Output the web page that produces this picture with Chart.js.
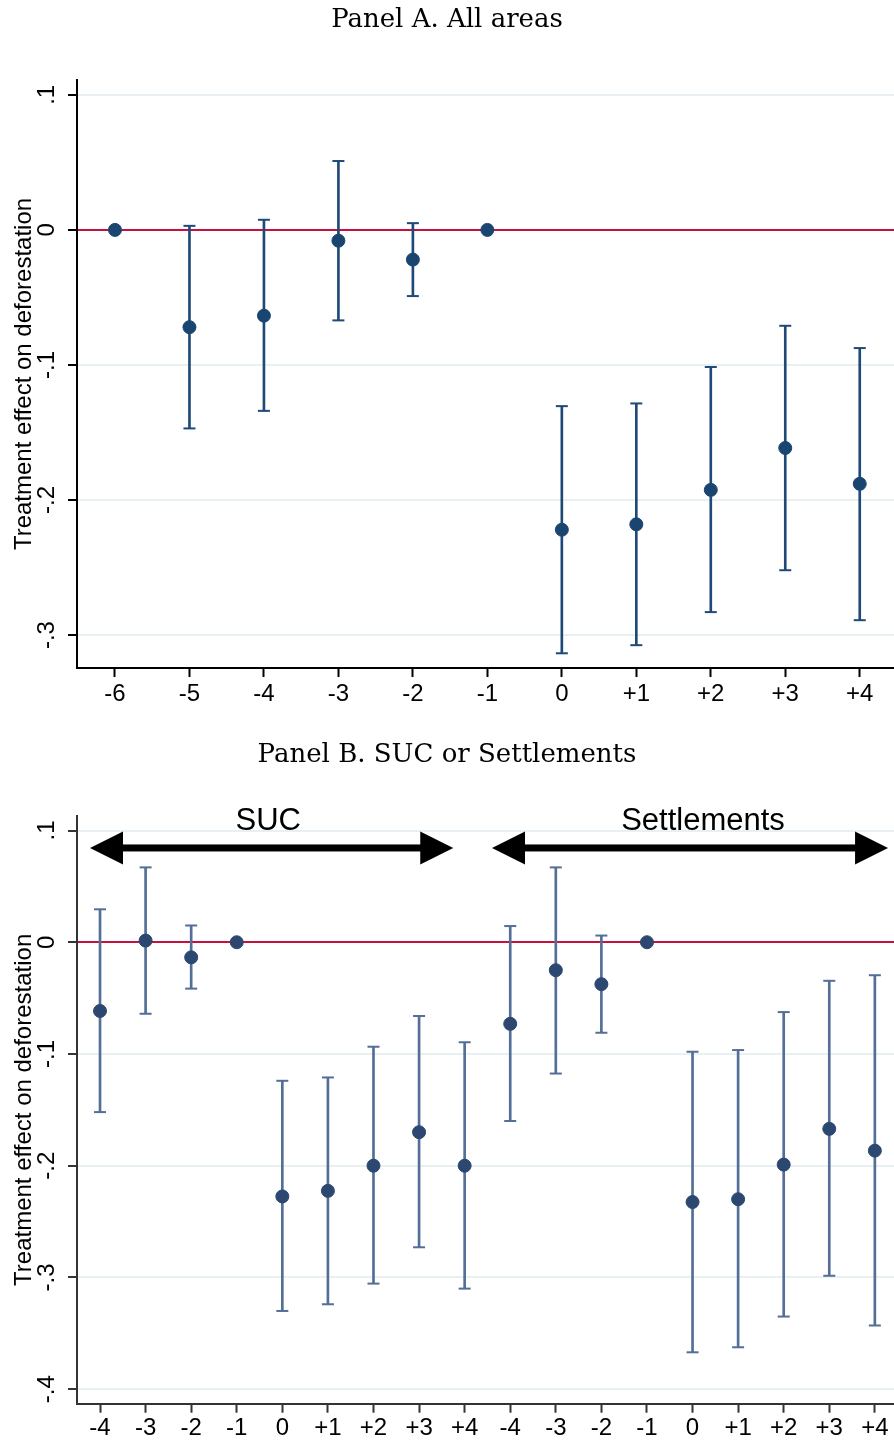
<!DOCTYPE html>
<html>
<head>
<meta charset="utf-8">
<script src="https://cdn.jsdelivr.net/npm/chart.js@4.4.1/dist/chart.umd.min.js"></script>
<style>
  html, body { margin: 0; padding: 0; background: #fff; overflow: hidden; }
  canvas { display: block; }
</style>
</head>
<body>
<canvas id="panel-a" width="894" height="720"></canvas>
<canvas id="panel-b" width="894" height="721"></canvas>
<script>
// Panel A. All areas
const yearsA = ['-6', '-5', '-4', '-3', '-2', '-1', '0', '+1', '+2', '+3', '+4'];
const effectA = [0, -0.072, -0.0635, -0.008, -0.022, 0, -0.222, -0.218, -0.1925, -0.1615, -0.188];
const lowerA = [null, -0.147, -0.134, -0.067, -0.049, null, -0.3135, -0.3075, -0.283, -0.252, -0.289];
const upperA = [null, 0.003, 0.0075, 0.051, 0.005, null, -0.1305, -0.1285, -0.1015, -0.071, -0.0875];
const yTicksA = [-0.3, -0.2, -0.1, 0, 0.1];
const yTickLabelsA = ['-.3', '-.2', '-.1', '0', '.1'];

// Panel B. SUC or Settlements
const yearsSuc = ['-4', '-3', '-2', '-1', '0', '+1', '+2', '+3', '+4'];
const effectSuc = [-0.0615, 0.0015, -0.0135, 0, -0.2275, -0.2225, -0.2, -0.17, -0.2];
const lowerSuc = [-0.152, -0.064, -0.0415, null, -0.33, -0.324, -0.3055, -0.273, -0.31];
const upperSuc = [0.0295, 0.067, 0.015, null, -0.124, -0.121, -0.0935, -0.066, -0.0895];
const yearsSet = ['-4', '-3', '-2', '-1', '0', '+1', '+2', '+3', '+4'];
const effectSet = [-0.073, -0.025, -0.0375, 0, -0.2325, -0.23, -0.199, -0.167, -0.1865];
const lowerSet = [-0.16, -0.1175, -0.081, null, -0.367, -0.3625, -0.335, -0.2985, -0.343];
const upperSet = [0.0145, 0.067, 0.006, null, -0.098, -0.0965, -0.0625, -0.0345, -0.0295];
const yTicksB = [-0.4, -0.3, -0.2, -0.1, 0, 0.1];
const yTickLabelsB = ['-.4', '-.3', '-.2', '-.1', '0', '.1'];

const groupNames = ['SUC', 'Settlements'];

const SANS = '"Liberation Sans", Arial, sans-serif';

// y tick labels are drawn turned on their side, like Stata does
const rotatedYLabels = {
  id: 'rotatedYLabels',
  afterDraw(chart, args, opts) {
    const y = chart.scales.y;
    const ctx = chart.ctx;
    ctx.save();
    ctx.font = '24px ' + SANS;
    ctx.fillStyle = '#000';
    ctx.textAlign = 'center';
    ctx.textBaseline = 'middle';
    opts.values.forEach((v, i) => {
      ctx.save();
      ctx.translate(opts.x, y.getPixelForValue(v));
      ctx.rotate(-Math.PI / 2);
      ctx.fillText(opts.labels[i], 0, 0);
      ctx.restore();
    });
    ctx.restore();
  }
};

// double headed arrows with a label on top (panel B only)
const groupArrows = {
  id: 'groupArrows',
  afterDraw(chart, args, opts) {
    if (!opts.spans) return;
    const xs = chart.scales.x, ys = chart.scales.y;
    const ctx = chart.ctx;
    ctx.save();
    ctx.fillStyle = '#000';
    opts.spans.forEach((s, i) => {
      const x1 = xs.getPixelForValue(s.from);
      const x2 = xs.getPixelForValue(s.to);
      const yy = ys.getPixelForValue(s.y);
      const head = 33, half = 16.5, thick = 7;
      ctx.fillRect(x1 + head - 2, yy - thick / 2, x2 - x1 - 2 * head + 4, thick);
      ctx.beginPath();
      ctx.moveTo(x1, yy);
      ctx.lineTo(x1 + head, yy - half);
      ctx.lineTo(x1 + head, yy + half);
      ctx.closePath();
      ctx.fill();
      ctx.beginPath();
      ctx.moveTo(x2, yy);
      ctx.lineTo(x2 - head, yy - half);
      ctx.lineTo(x2 - head, yy + half);
      ctx.closePath();
      ctx.fill();
      ctx.font = '31px ' + SANS;
      ctx.textAlign = 'center';
      ctx.textBaseline = 'middle';
      ctx.fillText(opts.labels[i], xs.getPixelForValue(s.labelX), ys.getPixelForValue(s.labelY));
    });
    ctx.restore();
  }
};

function makeChart(id, p) {
  const points = p.effect.map((v, i) => ({ x: i, y: v }));
  const bars = [];
  const caps = [];
  p.lower.forEach((lo, i) => {
    if (lo === null) return;
    bars.push({ x: i, y: [lo, p.upper[i]] });
    caps.push({ x: i, y: lo }, { x: i, y: p.upper[i] });
  });

  return new Chart(document.getElementById(id), {
    type: 'scatter',
    data: {
      datasets: [
        { data: points, pointStyle: 'circle', pointRadius: 6.5, pointHoverRadius: 6.5,
          backgroundColor: p.dot, borderColor: p.dot, borderWidth: 1, order: 0, clip: false },
        { data: caps, pointStyle: 'line', pointRadius: 6, pointHoverRadius: 6,
          borderColor: p.bar, borderWidth: 2, order: 1, clip: false },
        { type: 'bar', data: bars, barThickness: 2, backgroundColor: p.bar,
          borderWidth: 0, grouped: false, order: 2 }
      ]
    },
    options: {
      responsive: false,
      animation: false,
      layout: { padding: 0, autoPadding: false },
      plugins: {
        legend: { display: false },
        tooltip: { enabled: false },
        title: {
          display: true,
          text: p.title,
          color: '#000',
          font: { family: '"DejaVu Serif", serif', size: 26, weight: 'normal' },
          padding: p.titlePad
        },
        rotatedYLabels: { values: p.yTicks, labels: p.yLabels, x: 47 },
        groupArrows: p.arrows || {}
      },
      scales: {
        x: {
          type: 'linear',
          offset: false,
          min: p.xMin,
          max: p.xMax,
          afterBuildTicks: (s) => { s.ticks = p.years.map((_, i) => ({ value: i })); },
          afterFit: (s) => { s.height = p.xHeight; s.paddingLeft = 0; s.paddingRight = 0; },
          ticks: {
            autoSkip: false, maxRotation: 0, minRotation: 0,
            color: '#000', font: { family: SANS, size: 24 }, padding: p.xPad,
            callback: (v, i) => p.years[i]
          },
          grid: { offset: false, drawOnChartArea: false, tickLength: 9, tickColor: p.axis, tickWidth: 2 },
          border: { color: p.axis, width: 2 }
        },
        y: {
          type: 'linear',
          min: p.yMin,
          max: p.yMax,
          afterBuildTicks: (s) => { s.ticks = p.yTicks.map((v) => ({ value: v })); },
          afterFit: (s) => { s.width = 77; },
          ticks: { display: false },
          title: {
            display: true,
            text: 'Treatment effect on deforestation',
            color: '#000',
            font: { family: SANS, size: 24 },
            padding: { top: 10, bottom: 0 }
          },
          grid: {
            color: (c) => (c.tick && c.tick.value === 0 ? '#c8103e' : '#e8f0f3'),
            lineWidth: 2,
            tickLength: 9,
            tickColor: p.axis,
            tickWidth: 2
          },
          border: { color: p.axis, width: 2 }
        }
      }
    },
    plugins: [rotatedYLabels, groupArrows]
  });
}

window.addEventListener('load', () => {
  makeChart('panel-a', {
    title: 'Panel A. All areas',
    titlePad: { top: 4.4, bottom: 44.4 },
    years: yearsA, effect: effectA, lower: lowerA, upper: upperA,
    yTicks: yTicksA, yLabels: yTickLabelsA,
    xMin: -0.51, xMax: 10.46, yMin: -0.3244, yMax: 0.111,
    xHeight: 52, xPad: 3,
    dot: '#1b4571', bar: '#1f4a78', axis: '#000'
  });

  makeChart('panel-b', {
    title: 'Panel B. SUC or Settlements',
    titlePad: { top: 19.4, bottom: 45.4 },
    years: yearsSuc.concat(yearsSet),
    effect: effectSuc.concat(effectSet),
    lower: lowerSuc.concat(lowerSet),
    upper: upperSuc.concat(upperSet),
    yTicks: yTicksB, yLabels: yTickLabelsB,
    xMin: -0.505, xMax: 17.42, yMin: -0.413, yMax: 0.113,
    xHeight: 37.3, xPad: 1,
    dot: '#2c4870', bar: '#536e97', axis: '#333',
    arrows: {
      labels: groupNames,
      spans: [
        { from: -0.22, to: 7.75, y: 0.0844, labelX: 3.69, labelY: 0.1085 },
        { from: 8.6, to: 17.29, y: 0.0844, labelX: 13.23, labelY: 0.1085 }
      ]
    }
  });
});
</script>
</body>
</html>
